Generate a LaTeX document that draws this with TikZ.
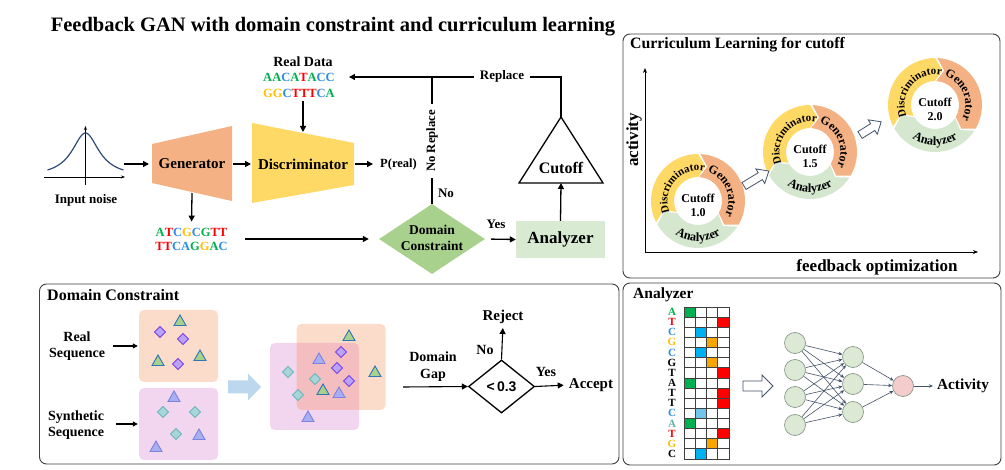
\documentclass[tikz,border=0pt]{standalone}
\usepackage{fontspec}
\setmainfont{Liberation Serif}
\newfontfamily\sansb{Liberation Sans}
\usetikzlibrary{arrows.meta,decorations.text,shapes.geometric,calc}
\definecolor{genc}{HTML}{F4B183}
\definecolor{disc}{HTML}{FFD966}
\definecolor{anac}{HTML}{D9EAD3}
\definecolor{cyca}{HTML}{D5E8CF}
\definecolor{dcg}{HTML}{A9D18E}
\definecolor{framec}{HTML}{404040}
\definecolor{nG}{HTML}{00B050}
\definecolor{nR}{HTML}{FF0000}
\definecolor{nB}{HTML}{2E8BE6}
\definecolor{nY}{HTML}{FFC000}
\definecolor{curvec}{HTML}{2F4A7A}
\definecolor{realbox}{HTML}{FBDCCB}
\definecolor{synbox}{HTML}{F2D6F0}
\definecolor{ovl}{HTML}{F4BEC0}
\definecolor{trig}{HTML}{A9D18E}
\definecolor{trib}{HTML}{2E75B6}
\definecolor{purf}{HTML}{B9A3F8}
\definecolor{purd}{HTML}{7B3FE4}
\definecolor{lavf}{HTML}{A8AEF2}
\definecolor{lavd}{HTML}{7C84E0}
\definecolor{tealf}{HTML}{A8D5D8}
\definecolor{teald}{HTML}{6BB5BA}
\definecolor{bigarr}{HTML}{BDD7EE}
\definecolor{nnf}{HTML}{DCEAD5}
\definecolor{nnd}{HTML}{8A9A8A}
\definecolor{outf}{HTML}{F4CCCC}
\definecolor{edgec}{HTML}{44546A}
\definecolor{cellg}{HTML}{00B050}
\definecolor{cellr}{HTML}{FF0000}
\definecolor{cellb}{HTML}{00B0F0}
\definecolor{cello}{HTML}{F7A600}
\definecolor{celll}{HTML}{71C5E8}
\definecolor{letteal}{HTML}{5FB49C}
\definecolor{gridc}{HTML}{404040}
\newcommand\fsz[2]{\fontsize{#1}{#2}\selectfont}
\newcommand\ntg[1]{\textcolor{nG}{#1}}
\newcommand\ntr[1]{\textcolor{nR}{#1}}
\newcommand\ntb[1]{\textcolor{nB}{#1}}
\newcommand\nty[1]{\textcolor{nY}{#1}}
\newcommand\cycfont{\bfseries\fsz{12}{14}}
\newcommand\cycfonta{\bfseries\fsz{12.5}{14}}
\newcommand\cycfontd{\bfseries\fsz{11}{13}}
\newcommand\cycring[4]{%
 \begin{scope}[shift={(#1,#2)}]
  \fill[disc] (207:47) arc[start angle=207,end angle=90,radius=47] -- (78:35.5) -- (90:24) arc[start angle=90,end angle=207,radius=24] -- (195:35.5) -- cycle;
  \fill[genc] (87:47) arc[start angle=87,end angle=-30,radius=47] -- (-42:35.5) -- (-30:24) arc[start angle=-30,end angle=87,radius=24] -- (75:35.5) -- cycle;
  \fill[cyca] (-33:47) arc[start angle=-33,end angle=-150,radius=47] -- (-162:35.5) -- (-150:24) arc[start angle=-150,end angle=-33,radius=24] -- (-45:35.5) -- cycle;
  \path[decorate,decoration={text along path,text align=center,text={|\cycfontd|Discriminator}}] (215:30.5) arc[start angle=215,end angle=65,radius=30.5];
  \path[decorate,decoration={text along path,text align=center,text={|\cycfont|Generator}}] (82:30.5) arc[start angle=82,end angle=-38,radius=30.5];
  \path[decorate,decoration={text along path,text align=center,text={|\cycfonta|Analyzer}}] (-152:40.5) arc[start angle=-152,end angle=-28,radius=40.5];
  \node[tsz={12}{14},align=center] (#3) at (0,-4) {Cutoff\\#4};
 \end{scope}}
\begin{document}
\begin{tikzpicture}[x=1pt,y=1pt,
  every node/.style={inner sep=0pt,font=\bfseries},
  tsz/.style 2 args={font=\bfseries\fsz{#1}{#2}},
  arr/.style={line width=1.3pt,-{Triangle[length=6pt,width=6pt]}},
  plainline/.style={line width=1.3pt},
  thinarr/.style={line width=1.1pt,-{Triangle[length=5pt,width=5pt]}},
  panel/.style={draw=framec,line width=0.9pt,rounded corners=7pt},
  nn/.style={circle,draw=nnd,fill=nnf,line width=0.7pt,minimum size=21pt},
  nnedge/.style={draw=edgec,line width=0.6pt,-{Stealth[length=4pt,width=3.5pt]}},
  hollow/.style={draw=edgec,fill=white,line width=0.8pt},
  gtri/.pic={\draw[fill=trig,draw=trib,line width=0.9pt] (-6,-4.5) -- (6,-4.5) -- (0,6) -- cycle;},
  ltri/.pic={\draw[fill=lavf,draw=lavd,line width=0.9pt] (-6,-4.5) -- (6,-4.5) -- (0,6) -- cycle;},
  pdia/.pic={\draw[fill=purf,draw=purd,line width=0.9pt] (0,5.5) -- (5.5,0) -- (0,-5.5) -- (-5.5,0) -- cycle;},
  tdia/.pic={\draw[fill=tealf,draw=teald,line width=0.9pt] (0,5.5) -- (5.5,0) -- (0,-5.5) -- (-5.5,0) -- cycle;}
]
\fill[white] (0,0) rectangle (1005,-470);
\useasboundingbox (0,0) rectangle (1005,-470);

% ---------------- top-left : feedback GAN ----------------
\node[tsz={20.5}{24}] (title) at (333,-27) {Feedback GAN with domain constraint and curriculum learning};

% gaussian
\node[minimum width=76pt,minimum height=60pt] (gauss) at (85.5,-164) {};
\draw[line width=0.8pt,-{Stealth[length=4pt,width=3pt]}] (44,-177) -- (125,-177);
\draw[line width=0.8pt,-{Stealth[length=4pt,width=3pt]}] (85.5,-185) -- (85.5,-126);
\draw[curvec,line width=1.2pt] plot[domain=-38:38,samples=121,smooth] ({85.5+\x},{-177+44/(1+(\x/16.5)^2)});
\node[tsz={13}{15}] (noise) at (86,-200) {Input noise};

% generator / discriminator
\fill[genc] (152,-144) -- (232,-126) -- (232,-201) -- (152,-183) -- cycle;
\fill[disc] (252,-123) -- (354,-143) -- (354,-185) -- (252,-203) -- cycle;
\node[tsz={15}{17}] (gen) at (192,-164) {Generator};
\node[tsz={15}{17}] (dis) at (303,-164) {Discriminator};
\coordinate (genin) at (149,-164);
\coordinate (genR) at (233,-164);
\coordinate (disin) at (251,-164);
\coordinate (disR) at (355,-164);
\coordinate (genB) at (192,-193);
\coordinate (disT) at (303,-132);
\node[tsz={12.5}{14}] (preal) at (398.5,-164) {P(real)};

\node[tsz={14}{16}] (rdl) at (303,-62) {Real Data};
\node[tsz={12.5}{14}] (rd1) at (299,-77) {\ntg{AA}\ntb{C}\ntg{A}\ntr{T}\ntg{A}\ntb{CC}};
\node[tsz={12.5}{14}] (rd2) at (299,-93) {\nty{GG}\ntb{C}\ntr{TTT}\ntb{C}\ntg{A}};

\node[tsz={12.5}{14}] (gs1) at (191.5,-232) {\ntg{A}\ntr{T}\ntb{C}\nty{G}\ntb{C}\ntg{G}\ntr{TT}};
\node[tsz={12.5}{14}] (gs2) at (191.5,-246) {\ntr{TT}\ntb{CA}\ntg{G}\nty{G}\ntg{A}\ntb{C}};

\node[diamond,fill=dcg,minimum width=106pt,minimum height=70pt] (dc) at (432,-239) {};
\node[tsz={13.5}{16},align=center] (dct) at (432,-238) {Domain\\Constraint};

\node[fill=anac,minimum width=89pt,minimum height=37pt,tsz={17}{19}] (an) at (560.5,-239.5) {Analyzer};

\draw[line width=1.3pt] (561,-117) -- (603,-183) -- (519,-183) -- cycle;
\coordinate (cutapex) at (561,-117);
\coordinate (cutbase) at (561,-183);
\node[tsz={16}{18}] (cutt) at (561,-168) {Cutoff};

\coordinate (rj) at (432,-76);
\node[tsz={12.7}{14},rotate=90,inner xsep=6pt] (nrep) at (432,-141) {No Replace};

\draw[arr] (gauss.east) -- (genin);
\draw[arr] (genR) -- (disin);
\draw[arr] (disR) -- (preal.west) [shorten >=7pt];
\draw[arr,shorten <=4pt] (rd2.south -| disT) -- (disT);
\draw[arr,shorten >=6pt] (genB) -- (gs1.north);
\draw[arr,shorten <=18pt,shorten >=10pt] (gs1.east |- dc.west) -- (dc.west);
\draw[plainline] (dc.north) -- (nrep.west);
\draw[plainline] (rj) -- (nrep.east);
\draw[arr] (an.north) -- (cutbase);
\draw[arr,shorten >=14pt] (cutapex) |- (rd1.east);
\draw[arr,shorten <=6pt] (dc.east) -- (an.west);

\node[tsz={13}{15},fill=white,inner xsep=6pt,inner ysep=2pt] (repl) at (502,-76) {Replace};
\node[tsz={13}{15}] (nolab) at (446,-193) {No};
\node[tsz={13}{15}] (yeslab) at (496,-224) {Yes};

% ---------------- top-right : curriculum ----------------
\draw[panel] (623,-34) rectangle (1000,-278);
\node[tsz={15.8}{18},anchor=west] (cltitle) at (630,-45) {Curriculum Learning for cutoff};
\coordinate (orig) at (645,-252);
\coordinate (ytop) at (645,-68);
\coordinate (xend) at (978,-252);
\draw[line width=0.9pt,-{Stealth[length=5pt,width=4pt]}] (orig) -- (ytop);
\draw[line width=0.9pt,-{Stealth[length=5pt,width=4pt]}] (orig) -- (xend);
\node[tsz={17}{19},rotate=90] (actlab) at (634,-140) {activity};
\node[tsz={17}{19}] (fblab) at (877,-267) {feedback optimization};

\cycring{698}{-201}{cyc1}{1.0}
\cycring{810}{-152}{cyc2}{1.5}
\cycring{935}{-105}{cyc3}{2.0}

\begin{scope}[shift={(744,-186)},rotate=31]
 \draw[hollow] (0,4) -- (19,4) -- (19,8.5) -- (29,0) -- (19,-8.5) -- (19,-4) -- (0,-4) -- cycle;
\end{scope}
\begin{scope}[shift={(860,-135)},rotate=32]
 \draw[hollow] (0,4) -- (15,4) -- (15,8.5) -- (25,0) -- (15,-8.5) -- (15,-4) -- (0,-4) -- cycle;
\end{scope}

% ---------------- bottom-left : domain constraint ----------------
\draw[panel] (39.5,-284) rectangle (619,-464);
\node[tsz={16}{18},anchor=west] (dctitle) at (47,-295) {Domain Constraint};
\node[tsz={14}{16},align=center] (rseq) at (77,-346) {Real\\Sequence};
\node[tsz={14}{16},align=center] (synseq) at (76,-425) {Synthetic\\Sequence};
\node[fill=realbox,rounded corners=5pt,minimum width=79pt,minimum height=72pt] (rbox) at (178.5,-346) {};
\node[fill=synbox,rounded corners=5pt,minimum width=79pt,minimum height=72pt] (sbox) at (178.5,-424) {};
\draw[thinarr,shorten <=8pt,shorten >=1pt] (rseq.east) -- (rbox.west);
\draw[thinarr,shorten <=12pt,shorten >=1pt] (synseq.east |- sbox.west) -- (sbox.west);

\pic at (180,-321) {gtri};
\pic at (158,-361) {gtri};
\pic at (200,-356) {gtri};
\pic at (160,-332) {pdia};
\pic at (183,-339) {pdia};
\pic at (178,-364) {pdia};
\pic at (174,-397) {ltri};
\pic at (199,-435) {ltri};
\pic at (156,-447) {ltri};
\pic at (163,-412) {tdia};
\pic at (195,-412) {tdia};
\pic at (176,-434) {tdia};

\fill[bigarr] (228,-380.5) -- (248,-380.5) -- (248,-373.5) -- (261,-387) -- (248,-400.5) -- (248,-393.5) -- (228,-393.5) -- cycle;

\node[fill=synbox,rounded corners=5pt,minimum width=89pt,minimum height=87pt] (ovp) at (314.5,-386.5) {};
\node[fill=realbox,rounded corners=5pt,minimum width=89pt,minimum height=86pt] (ovo) at (341,-367) {};
\begin{scope}
 \clip[rounded corners=5pt] (270,-343) rectangle (359,-430);
 \fill[ovl,rounded corners=5pt] (296.5,-324) rectangle (385.5,-410);
\end{scope}
\pic at (349,-336) {gtri};
\pic at (375,-372) {gtri};
\pic at (323,-390) {gtri};
\pic at (341,-352) {pdia};
\pic at (337,-368) {pdia};
\pic at (349,-381) {pdia};
\pic at (319,-359) {ltri};
\pic at (339,-393) {ltri};
\pic at (308,-417) {ltri};
\pic at (288,-372) {tdia};
\pic at (315,-379) {tdia};
\pic at (298,-395) {tdia};

\node[tsz={14}{17},align=center] (dgap) at (433,-366.5) {Domain\\Gap};
\coordinate (dgin) at (403,-387);
\node[diamond,draw,line width=1.3pt,minimum width=66pt,minimum height=53pt] (gapd) at (501.5,-386.5) {};
\node[font=\sansb\bfseries\fsz{14}{16}] (gapt) at (501.5,-387) {<\,0.3};
\node[tsz={15}{17}] (rej) at (503,-317) {Reject};
\node[tsz={15}{17}] (acc) at (591,-385) {Accept};
\node[tsz={14}{16}] (nolab2) at (485,-350) {No};
\node[tsz={14}{16}] (yeslab2) at (546,-372) {Yes};
\draw[arr,line width=1.1pt] (dgin) -- (gapd.west);
\draw[arr,line width=1.1pt,shorten >=4pt] (gapd.north) -- (rej.south);
\draw[arr,line width=1.1pt,shorten >=5pt] (gapd.east) -- (acc.west);

% ---------------- bottom-right : analyzer ----------------
\draw[panel] (623,-283) rectangle (1001,-465);
\node[tsz={15.5}{18},anchor=west] (antitle) at (633,-295) {Analyzer};
\foreach \r/\c/\col in {0/0/cellg,1/3/cellr,2/1/cellb,3/2/cello,4/1/cellb,5/2/cello,6/3/cellr,7/0/cellg,8/3/cellr,9/3/cellr,10/1/celll,11/0/cellg,12/3/cellr,13/2/cello,14/1/cellb}
  \fill[\col] ({684+\c*11.25},{-307-\r*10.13}) rectangle ++(11.25,-10.13);
\foreach \r in {0,...,14}
  \foreach \c in {0,...,3}
    \draw[gridc,line width=0.7pt] ({684+\c*11.25},{-307-\r*10.13}) rectangle ++(11.25,-10.13);
\foreach \L/\col [count=\r from 0] in {A/nG,T/nR,C/nB,G/nY,C/nB,G/black,T/black,A/black,T/black,T/black,C/nB,A/letteal,T/nR,G/nY,C/black}
  \node[tsz={11}{11},text=\col] (let\r) at (672,{-312-\r*10.13}) {\L};

\draw[hollow] (743,-381) -- (762,-381) -- (762,-375) -- (773,-386) -- (762,-397) -- (762,-391) -- (743,-391) -- cycle;

\node[nn] (i1) at (795,-343) {};
\node[nn] (i2) at (795,-370) {};
\node[nn] (i3) at (795,-397) {};
\node[nn] (i4) at (795,-425) {};
\node[nn] (h1) at (853,-357) {};
\node[nn] (h2) at (853,-384) {};
\node[nn] (h3) at (853,-412) {};
\node[nn,fill=outf] (o) at (903,-386) {};
\node[tsz={15.3}{17}] (act) at (963,-386) {Activity};
\foreach \i in {1,...,4}
  \foreach \j in {1,2,3}
    \draw[nnedge] (i\i) -- (h\j);
\foreach \j in {1,2,3}
  \draw[nnedge] (h\j) -- (o);
\draw[nnedge,shorten >=4pt] (o) -- (act);
\end{tikzpicture}
\end{document}
